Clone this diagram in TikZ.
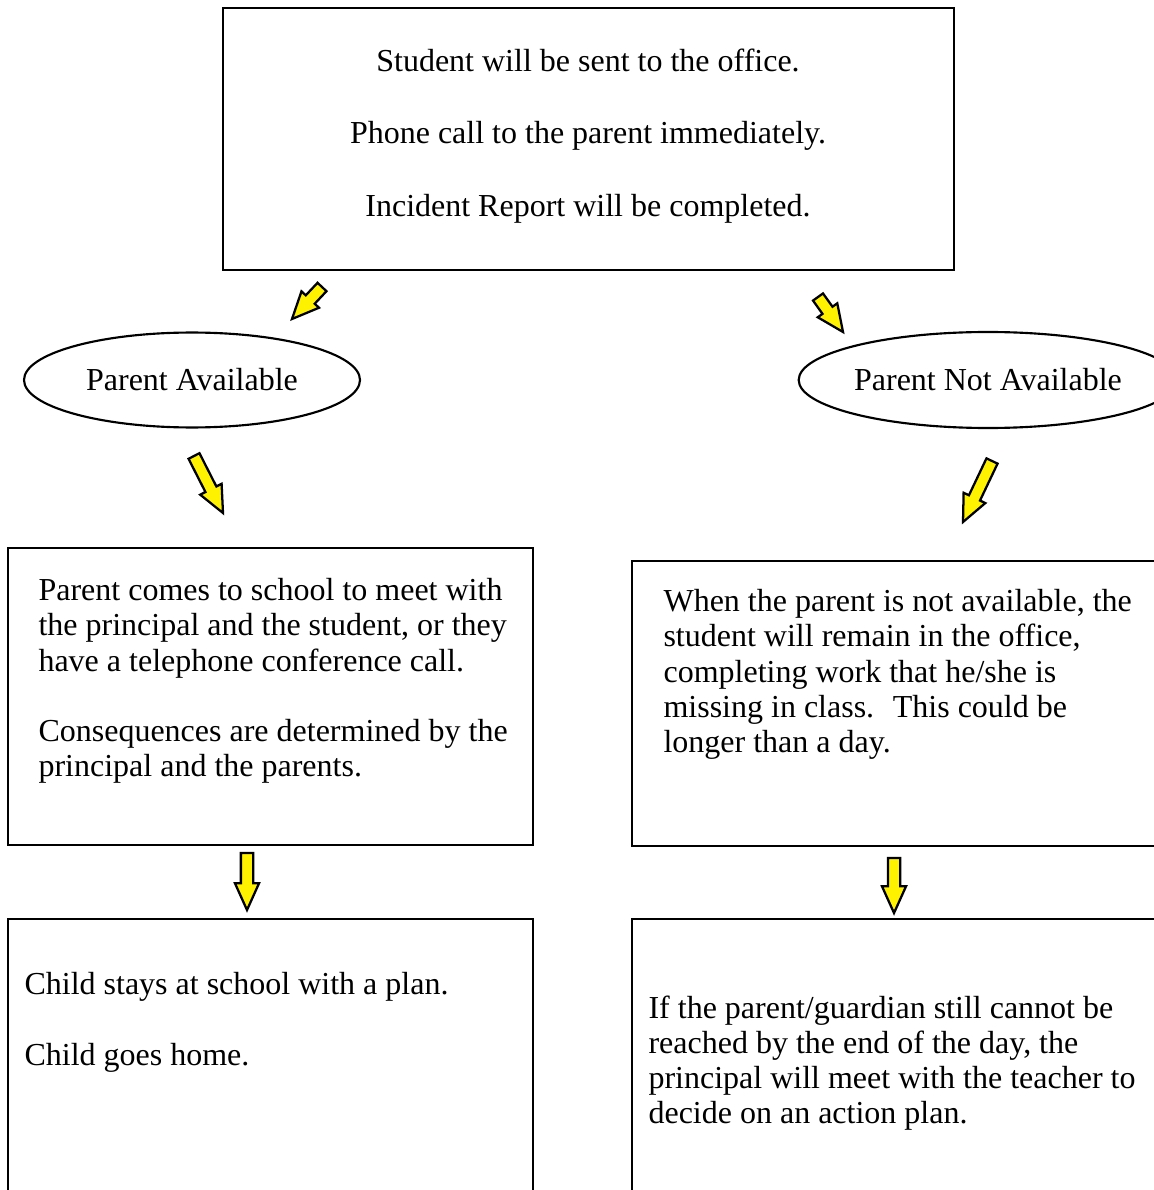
\documentclass[tikz,border=0pt]{standalone}
\usepackage{fontspec}
\setmainfont{Liberation Serif}
\usetikzlibrary{calc,fit,shapes.geometric}

\tikzset{
  box/.style={draw, line width=0.8pt, inner sep=0pt},
  oval/.style={draw, ellipse, line width=0.8pt, inner sep=0pt},
  txt/.style={anchor=north west, inner sep=0pt, align=left},
  blockarrow/.style={draw=black, fill=yellow, line width=0.85pt, line join=miter}
}
\newcommand{\yarrow}[2]{%
  \coordinate (neck) at ($(#2)!10pt!(#1)$);
  \draw[blockarrow] ($(#1)!2.3pt!90:(#2)$) -- ($(neck)!2.3pt!90:(#2)$)
    -- ($(neck)!4.5pt!90:(#2)$) -- (#2) -- ($(neck)!4.5pt!-90:(#2)$)
    -- ($(neck)!2.3pt!-90:(#2)$) -- ($(#1)!2.3pt!-90:(#2)$) -- cycle;
}

\begin{document}
\begin{tikzpicture}[x=0.375pt, y=-0.375pt, font=\fontsize{12}{13.2}\selectfont]
\useasboundingbox (0,0) rectangle (1154,1190);

\node[box, fit={(223,8) (954,270)}] (office) {};
\node[align=center, inner sep=0pt] (officetxt) at (588,136)
  {Student will be sent to the office.\\[14pt]
   Phone call to the parent immediately.\\[14pt]
   Incident Report will be completed.};

\node[oval, minimum width=126pt, minimum height=35.6pt] (avail) at (192,380) {Parent Available};
\node[oval, minimum width=123.75pt, minimum height=36pt] (notavail) at (988,380) {Parent Not Available};

\node[box, fit={(8,548) (533,845)}] (meet) {};
\node[txt] (meettxt) at (38,578)
  {Parent comes to school to meet with\\
   the principal and the student, or they\\
   have a telephone conference call.\\[13.2pt]
   Consequences are determined by the\\
   principal and the parents.};

\node[box, fit={(632,561) (1160,846)}] (office2) {};
\node[txt] (office2txt) at (663,589)
  {When the parent is not available, the\\
   student will remain in the office,\\
   completing work that he/she is\\
   missing in class.~ This could be\\
   longer than a day.};

\node[box, fit={(8,919) (533,1200)}] (plan) {};
\node[txt] (plantxt) at (24,972)
  {Child stays at school with a plan.\\[13.2pt]
   Child goes home.};

\node[box, fit={(632,919) (1160,1200)}] (action) {};
\node[txt] (actiontxt) at (648,995)
  {If the parent/guardian still cannot be\\
   reached by the end of the day, the\\
   principal will meet with the teacher to\\
   decide on an action plan.};

\coordinate (a1s) at (322,287);  \coordinate (a1e) at (292,319);
\coordinate (a2s) at (818,297);  \coordinate (a2e) at (843,332);
\coordinate (a3s) at (194,456);  \coordinate (a3e) at (223,513);
\coordinate (a4s) at (992,461);  \coordinate (a4e) at (963,522);
\coordinate (a5s) at (247,853);  \coordinate (a5e) at (247,910);
\coordinate (a6s) at (894,858);  \coordinate (a6e) at (894,913);

\yarrow{a1s}{a1e}
\yarrow{a2s}{a2e}
\yarrow{a3s}{a3e}
\yarrow{a4s}{a4e}
\yarrow{a5s}{a5e}
\yarrow{a6s}{a6e}
\end{tikzpicture}
\end{document}
